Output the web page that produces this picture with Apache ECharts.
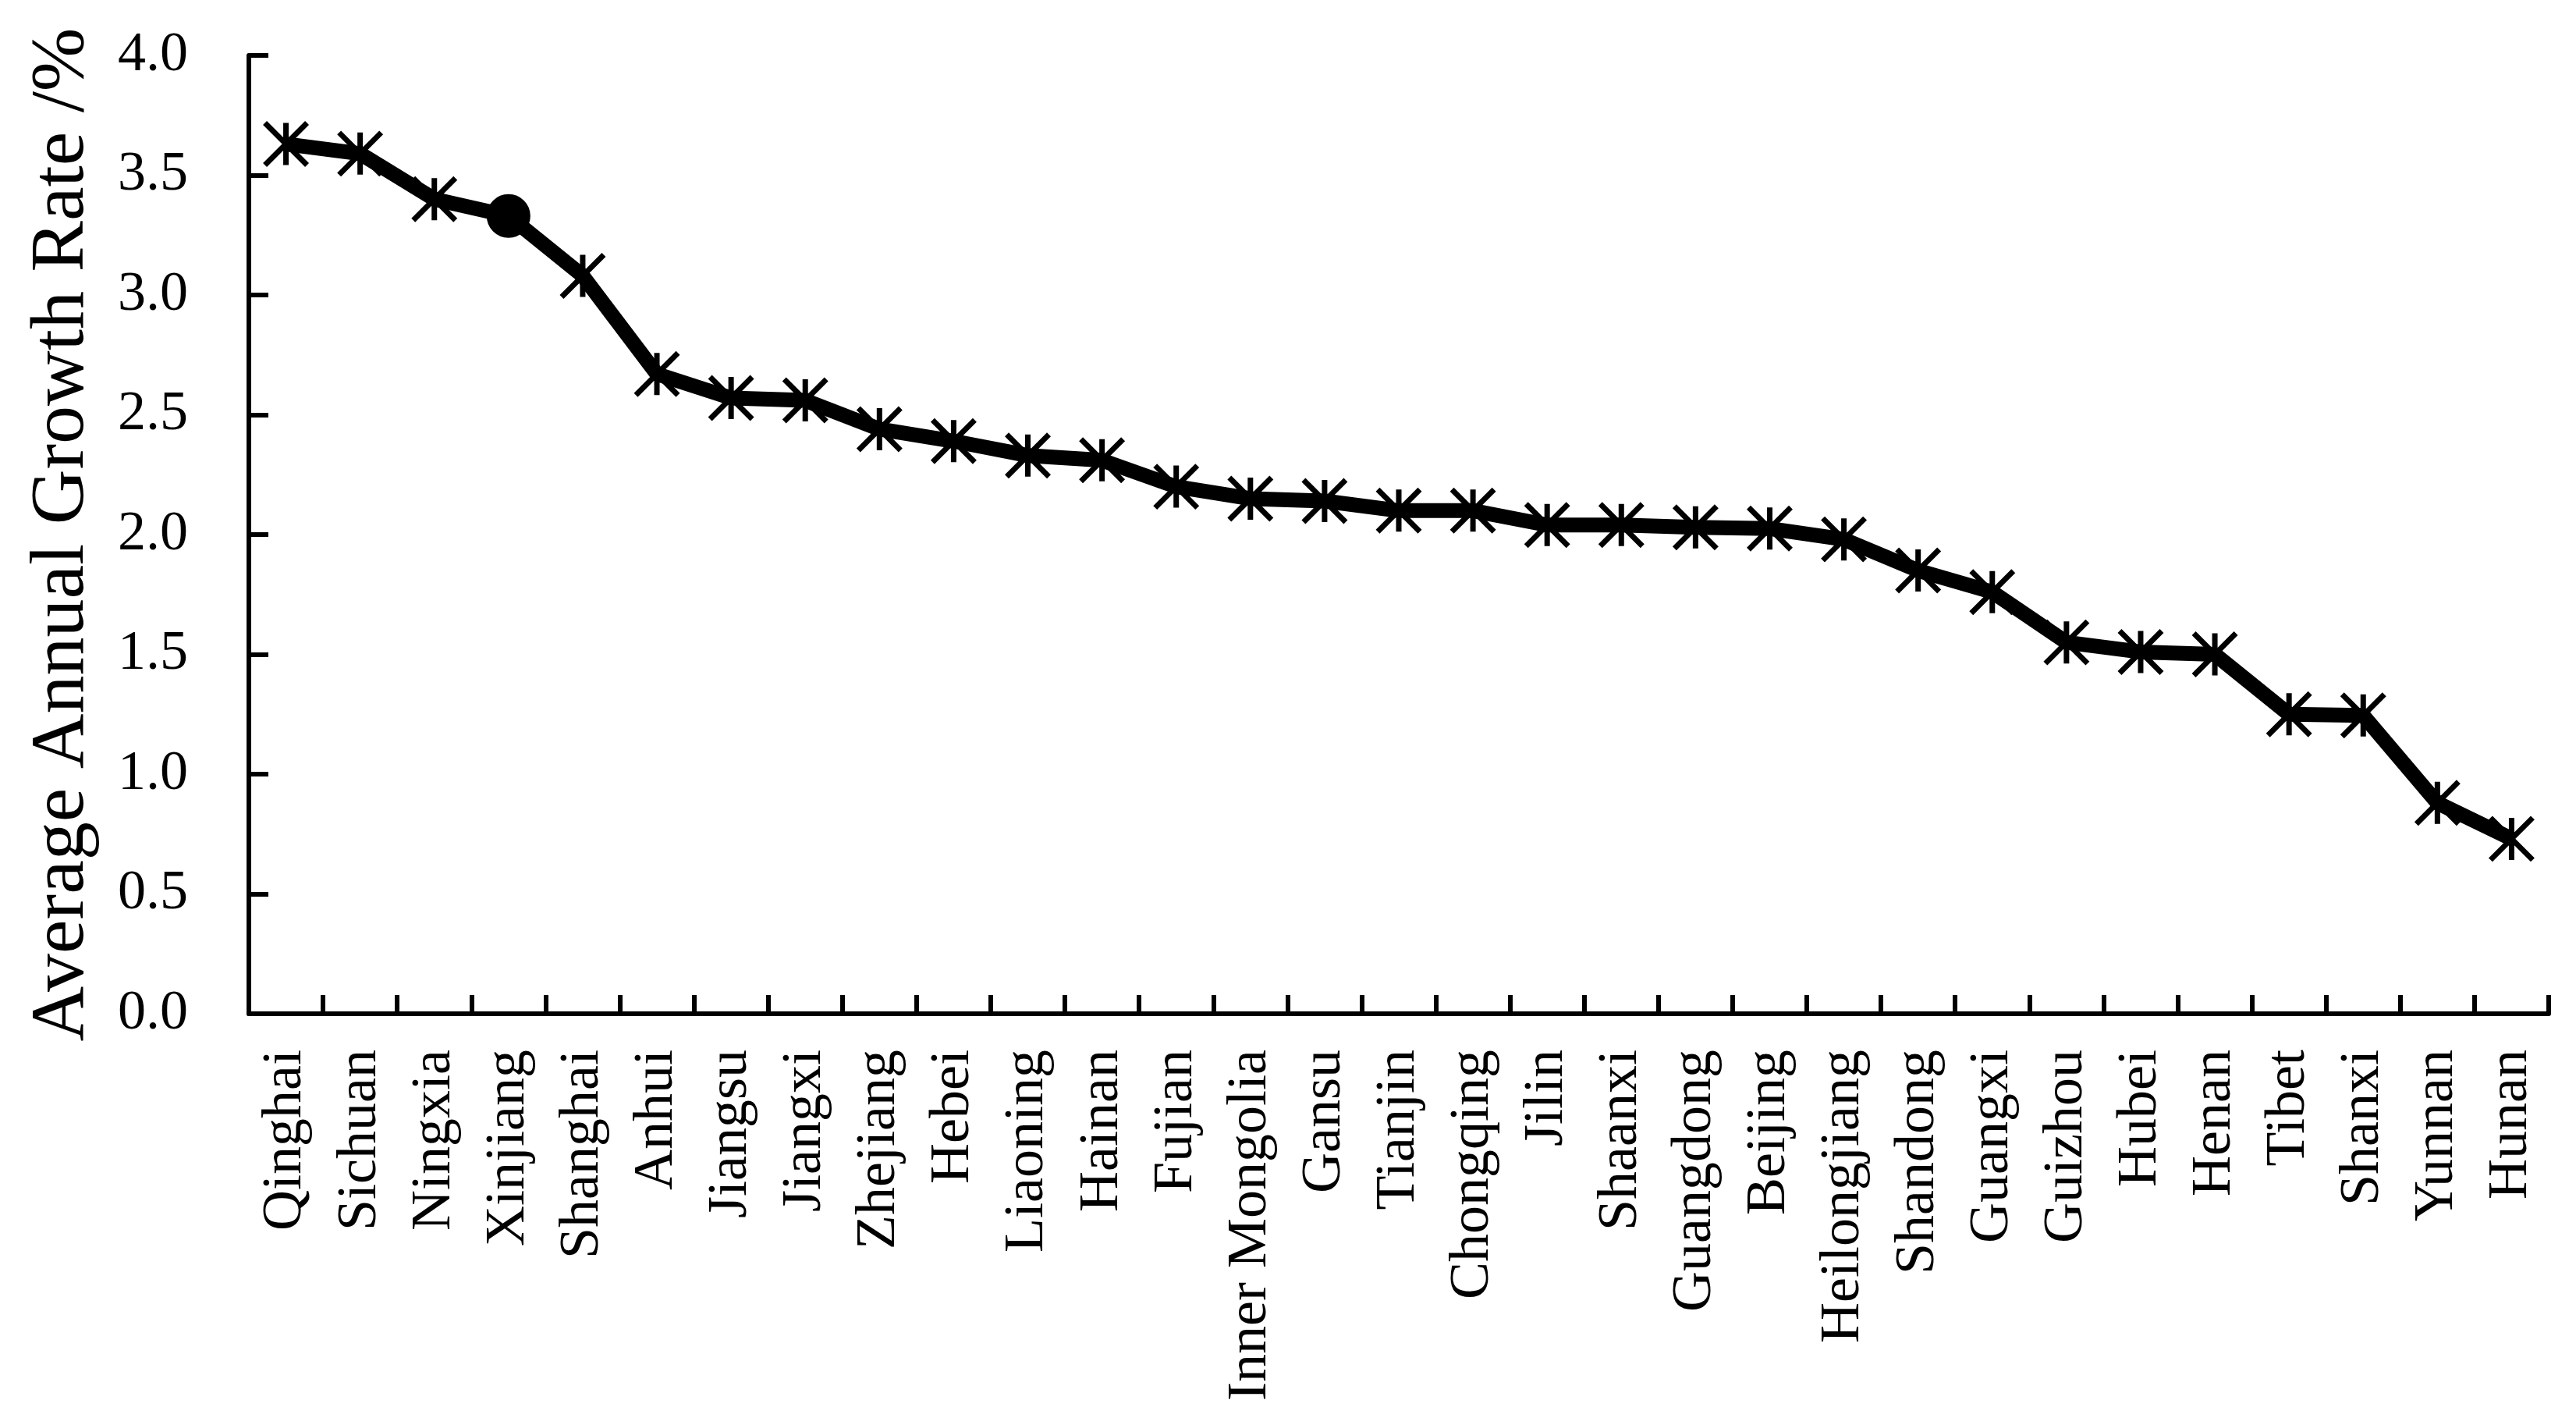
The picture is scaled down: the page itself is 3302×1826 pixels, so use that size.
<!DOCTYPE html>
<html>
<head>
<meta charset="utf-8">
<script src="https://cdn.jsdelivr.net/npm/echarts@6/dist/echarts.min.js"></script>
<style>
html,body{margin:0;padding:0;background:#fff;}
#chart{width:3302px;height:1826px;}
</style>
</head>
<body>
<div id="chart"></div>
<script>
const provinces = ["Qinghai","Sichuan","Ningxia","Xinjiang","Shanghai","Anhui","Jiangsu","Jiangxi","Zhejiang","Hebei","Liaoning","Hainan","Fujian","Inner Mongolia","Gansu","Tianjin","Chongqing","Jilin","Shaanxi","Guangdong","Beijing","Heilongjiang","Shandong","Guangxi","Guizhou","Hubei","Henan","Tibet","Shanxi","Yunnan","Hunan"];
const growthRates = [3.63,3.59,3.40,3.33,3.08,2.67,2.57,2.56,2.44,2.39,2.33,2.31,2.20,2.15,2.14,2.10,2.10,2.04,2.04,2.03,2.025,1.98,1.85,1.76,1.55,1.51,1.50,1.25,1.245,0.88,0.73];
const highlighted = ["Xinjiang"];
const yAxisTitle = "Average Annual Growth Rate /%";
const yMin = 0, yMax = 4, yStep = 0.5;

const FONT = "'Liberation Serif', 'Times New Roman', serif";
const asterisk = 'path://M0,0L10,10M10,0L0,10M5,0L5,10';

const seriesData = provinces.map((p, i) => {
  if (highlighted.includes(p)) {
    return { value: growthRates[i], symbol: 'circle', symbolSize: 52,
             itemStyle: { color: '#000', borderColor: '#000', borderWidth: 4 } };
  }
  return growthRates[i];
});

const chart = echarts.init(document.getElementById('chart'), null, { renderer: 'canvas' });
chart.setOption({
  animation: false,
  backgroundColor: '#fff',
  grid: { left: 319, right: 35, top: 71, bottom: 527, containLabel: false },
  xAxis: {
    type: 'category',
    data: provinces,
    boundaryGap: true,
    axisLine: { show: true, lineStyle: { color: '#000', width: 6 } },
    axisTick: { show: true, inside: true, length: 24, interval: 0, lineStyle: { color: '#000', width: 6 } },
    axisLabel: { interval: 0, rotate: 90, margin: 46, color: '#000', fontFamily: FONT, fontSize: 72 },
    splitLine: { show: false }
  },
  yAxis: {
    type: 'value',
    min: yMin, max: yMax, interval: yStep,
    name: yAxisTitle,
    nameLocation: 'middle',
    nameRotate: 90,
    nameGap: 190,
    nameTextStyle: { color: '#000', fontFamily: FONT, fontSize: 98 },
    axisLine: { show: true, lineStyle: { color: '#000', width: 6 } },
    axisTick: { show: true, inside: true, length: 25, lineStyle: { color: '#000', width: 6 } },
    axisLabel: { margin: 78, color: '#000', fontFamily: FONT, fontSize: 72, formatter: v => v.toFixed(1) },
    splitLine: { show: false }
  },
  series: [{
    type: 'line',
    data: seriesData,
    symbol: asterisk,
    symbolSize: 54,
    showAllSymbol: true,
    lineStyle: { color: '#000', width: 19 },
    itemStyle: { color: '#000', borderColor: '#000', borderWidth: 7 },
    emphasis: { disabled: true }
  }]
});
</script>
</body>
</html>
